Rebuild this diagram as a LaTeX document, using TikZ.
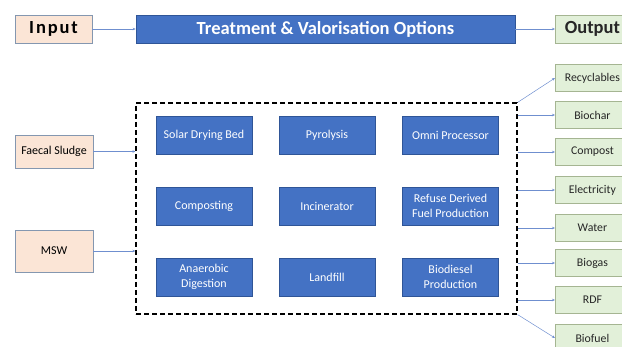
\documentclass[tikz,border=0pt]{standalone}
\usepackage{fontspec}
\setmainfont{Carlito}
\usetikzlibrary{arrows.meta}
\definecolor{peach}{HTML}{FBE5D6}
\definecolor{peachline}{HTML}{8497B0}
\definecolor{optblue}{HTML}{4472C4}
\definecolor{optline}{HTML}{2F5597}
\definecolor{outgreen}{HTML}{E2F0D9}
\definecolor{outline}{HTML}{A5B592}
\definecolor{arrowblue}{HTML}{6F8FCF}

\begin{document}
\begin{tikzpicture}[x=1pt,y=-1pt,
		inbox/.style={draw=peachline, fill=peach, line width=0.8pt, text=black, font=\fontsize{12}{13}\selectfont},
		optbox/.style={draw=optline, fill=optblue, line width=0.6pt, text=white, align=center, minimum width=96pt, minimum height=38pt, font=\fontsize{12}{14.5}\selectfont},
		outbox/.style={draw=outline, fill=outgreen, line width=0.8pt, text=black!85, minimum width=74pt, minimum height=27pt, font=\fontsize{11.8}{13}\selectfont},
		link/.style={-{Stealth[length=3pt,width=2.5pt]}, draw=arrowblue, line width=0.5pt}]
		
		\useasboundingbox (0,0) rectangle (622,347);
		
		% THE HEADINGS
		\node[inbox, minimum width=77pt, minimum height=28pt, font=\fontsize{18.5}{20}\selectfont\bfseries\addfontfeature{LetterSpace=10}] (inp) at (53.5,29) {Input};
		\node[optbox, minimum width=379pt, minimum height=28pt, font=\fontsize{18.5}{20}\selectfont\bfseries] (title) at (325.5,29) {Treatment \& Valorisation Options};
		\node[outbox, minimum height=28pt, anchor=west, font=\fontsize{18.5}{20}\selectfont\bfseries] (outp) at (555,29) {Output};
		\draw[link] (inp) -- (title);
		\draw[link] (title) -- (outp);
		%
		% THE INPUTS
		\node[inbox, minimum width=78pt, minimum height=33pt] (sludge) at (54,151.5) {Faecal Sludge};
		\node[inbox, minimum width=78pt, minimum height=42pt] (msw) at (54,251) {MSW};
		%
		% THE OPTIONS
		\node[draw=black, dash pattern=on 5pt off 3pt, line width=1.2pt, minimum width=381pt, minimum height=211pt] (options) at (326.5,208.5) {};
		% FIRST ROW
		\node[optbox] (solar) at (204,135) {Solar Drying Bed};
		\node[optbox] (pyro) at (327,135) {Pyrolysis};
		\node[optbox] (omni) at (450.5,135) {Omni Processor};
		% SECOND ROW
		\node[optbox] (compo) at (204,206) {Composting};
		\node[optbox] (incin) at (327,206) {Incinerator};
		\node[optbox] (rdfprod) at (450.5,206) {Refuse Derived\\Fuel Production};
		% THIRD ROW
		\node[optbox] (anaer) at (204,277) {Anaerobic\\Digestion};
		\node[optbox] (landfill) at (327,277) {Landfill};
		\node[optbox] (biodiesel) at (450.5,277) {Biodiesel\\Production};
		%
		\draw[link] (sludge) -- (options.west |- sludge);
		\draw[link] (msw) -- (options.west |- msw);
		%
		% THE OUTPUTS
		\node[outbox, anchor=west] (recyc) at (555,78) {Recyclables};
		\node[outbox, anchor=west] (biochar) at (555,115) {Biochar};
		\node[outbox, anchor=west] (compost) at (555,152) {Compost};
		\node[outbox, anchor=west] (elec) at (555,190) {Electricity};
		\node[outbox, anchor=west] (water) at (555,228) {Water};
		\node[outbox, anchor=west] (biogas) at (555,263) {Biogas};
		\node[outbox, anchor=west] (rdf) at (555,300) {RDF};
		\node[outbox, anchor=west] (biofuel) at (555,338) {Biofuel};
		%
		\draw[link] (options.north east) -- (recyc.west);
		\draw[link] (options.east |- biochar) -- (biochar.west);
		\draw[link] (options.east |- compost) -- (compost.west);
		\draw[link] (options.east |- elec) -- (elec.west);
		\draw[link] (options.east |- water) -- (water.west);
		\draw[link] (options.east |- biogas) -- (biogas.west);
		\draw[link] (options.east |- rdf) -- (rdf.west);
		\draw[link] (options.south east) -- (biofuel.west);
	\end{tikzpicture}
\end{document}
